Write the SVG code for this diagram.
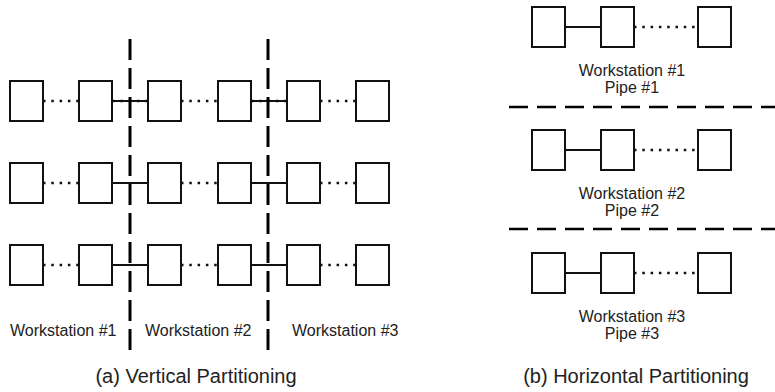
<svg xmlns="http://www.w3.org/2000/svg" width="775" height="392" viewBox="0 0 775 392">
<style>
.box{fill:#fff;stroke:#111;stroke-width:2}
.solid{stroke:#111;stroke-width:1.8;fill:none}
.dot{stroke:#111;stroke-width:2.5;stroke-dasharray:2.5 5.8;fill:none}
.vdash{stroke:#000;stroke-width:3;stroke-dasharray:21 8;fill:none}
.hdash{stroke:#000;stroke-width:2.5;stroke-dasharray:19 9;fill:none}
.lbl{font-family:"Liberation Sans",Arial,sans-serif;font-size:16px;fill:#222}
.cap{font-family:"Liberation Sans",Arial,sans-serif;font-size:20px;fill:#222}
</style>
<g id="connectors">
<line class="dot" x1="43" y1="101" x2="79" y2="101"/>
<line class="solid" x1="112" y1="101" x2="148" y2="101"/>
<line class="dot" x1="112" y1="101" x2="148" y2="101"/>
<line class="dot" x1="181" y1="101" x2="218" y2="101"/>
<line class="solid" x1="251" y1="101" x2="287" y2="101"/>
<line class="dot" x1="251" y1="101" x2="287" y2="101"/>
<line class="dot" x1="320" y1="101" x2="356" y2="101"/>
<line class="dot" x1="43" y1="183" x2="79" y2="183"/>
<line class="solid" x1="112" y1="183" x2="148" y2="183"/>
<line class="dot" x1="181" y1="183" x2="218" y2="183"/>
<line class="solid" x1="251" y1="183" x2="287" y2="183"/>
<line class="dot" x1="320" y1="183" x2="356" y2="183"/>
<line class="dot" x1="43" y1="265" x2="79" y2="265"/>
<line class="solid" x1="112" y1="265" x2="148" y2="265"/>
<line class="dot" x1="181" y1="265" x2="218" y2="265"/>
<line class="solid" x1="251" y1="265" x2="287" y2="265"/>
<line class="dot" x1="320" y1="265" x2="356" y2="265"/>
<line class="solid" x1="565" y1="27" x2="601" y2="27"/>
<line class="dot" x1="634" y1="27" x2="698" y2="27"/>
<line class="solid" x1="565" y1="150" x2="601" y2="150"/>
<line class="dot" x1="634" y1="150" x2="698" y2="150"/>
<line class="solid" x1="565" y1="273" x2="601" y2="273"/>
<line class="dot" x1="634" y1="273" x2="698" y2="273"/>
</g>
<g id="partitions">
<line class="vdash" x1="130" y1="39" x2="130" y2="350"/>
<line class="vdash" x1="268" y1="39" x2="268" y2="350"/>
<line class="hdash" x1="509" y1="107" x2="775" y2="107"/>
<line class="hdash" x1="509" y1="229" x2="775" y2="229"/>
</g>
<g id="left-row1">
<rect class="box" x="10" y="81" width="33" height="40"/>
<rect class="box" x="79" y="81" width="33" height="40"/>
<rect class="box" x="148" y="81" width="33" height="40"/>
<rect class="box" x="218" y="81" width="33" height="40"/>
<rect class="box" x="287" y="81" width="33" height="40"/>
<rect class="box" x="356" y="81" width="33" height="40"/>
</g>
<g id="left-row2">
<rect class="box" x="10" y="163" width="33" height="40"/>
<rect class="box" x="79" y="163" width="33" height="40"/>
<rect class="box" x="148" y="163" width="33" height="40"/>
<rect class="box" x="218" y="163" width="33" height="40"/>
<rect class="box" x="287" y="163" width="33" height="40"/>
<rect class="box" x="356" y="163" width="33" height="40"/>
</g>
<g id="left-row3">
<rect class="box" x="10" y="245" width="33" height="40"/>
<rect class="box" x="79" y="245" width="33" height="40"/>
<rect class="box" x="148" y="245" width="33" height="40"/>
<rect class="box" x="218" y="245" width="33" height="40"/>
<rect class="box" x="287" y="245" width="33" height="40"/>
<rect class="box" x="356" y="245" width="33" height="40"/>
</g>
<g id="left-labels">
<text class="lbl" x="10" y="336">Workstation #1</text>
<text class="lbl" x="145" y="336">Workstation #2</text>
<text class="lbl" x="292" y="336">Workstation #3</text>
<text class="cap" x="196" y="383" text-anchor="middle">(a) Vertical Partitioning</text>
</g>
<g id="right-pipe1">
<rect class="box" x="532" y="7" width="33" height="40"/>
<rect class="box" x="601" y="7" width="33" height="40"/>
<rect class="box" x="698" y="7" width="33" height="40"/>
<text class="lbl" x="632" y="76" text-anchor="middle">Workstation #1</text>
<text class="lbl" x="632" y="93" text-anchor="middle">Pipe #1</text>
</g>
<g id="right-pipe2">
<rect class="box" x="532" y="130" width="33" height="40"/>
<rect class="box" x="601" y="130" width="33" height="40"/>
<rect class="box" x="698" y="130" width="33" height="40"/>
<text class="lbl" x="632" y="199" text-anchor="middle">Workstation #2</text>
<text class="lbl" x="632" y="216" text-anchor="middle">Pipe #2</text>
</g>
<g id="right-pipe3">
<rect class="box" x="532" y="253" width="33" height="40"/>
<rect class="box" x="601" y="253" width="33" height="40"/>
<rect class="box" x="698" y="253" width="33" height="40"/>
<text class="lbl" x="632" y="322" text-anchor="middle">Workstation #3</text>
<text class="lbl" x="632" y="339" text-anchor="middle">Pipe #3</text>
</g>
<g id="captions">
<text class="cap" x="636" y="383" text-anchor="middle">(b) Horizontal Partitioning</text>
</g>
</svg>
